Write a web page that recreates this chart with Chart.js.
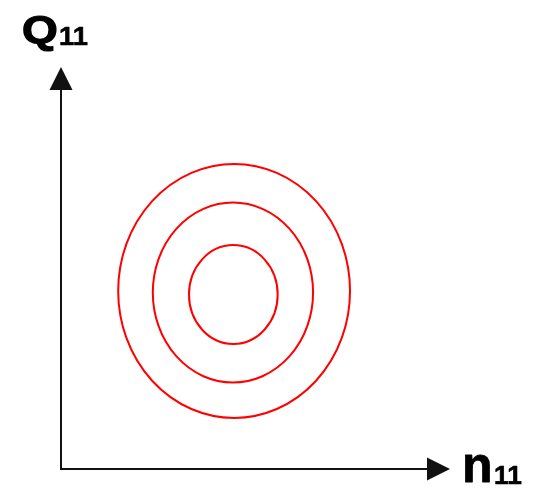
<!DOCTYPE html>
<html>
<head>
<meta charset="utf-8">
<script src="https://cdn.jsdelivr.net/npm/chart.js@4/dist/chart.umd.min.js"></script>
<style>
  html, body { margin: 0; padding: 0; background: #fff; }
  #wrap { width: 540px; height: 493px; }
</style>
</head>
<body>
<div id="wrap"><canvas id="chart"></canvas></div>
<script>
// Contornos: centro y semiejes en unidades de los ejes (0..10)
const contourNames = ['exterior', 'medio', 'interior'];
const centerX = [4.45, 4.42, 4.43];
const centerY = [4.43, 4.39, 4.34];
const radiusX = [2.98, 2.06, 1.14];
const radiusY = [3.16, 2.24, 1.23];

// Rótulos de los ejes
const xLabel = ['n', '11'];
const yLabel = ['Q', '11'];

const FONT = '"Liberation Sans", Arial, sans-serif';

// Texto en negrita, con trazo extra y ensanchado horizontal opcional
function boldText(ctx, text, x, y, size, stretch, stroke) {
    ctx.save();
    ctx.translate(x, y);
    ctx.scale(stretch, 1);
    ctx.font = 'bold ' + size + 'px ' + FONT;
    ctx.fillText(text, 0, 0);
    if (stroke) {
        ctx.lineWidth = stroke;
        ctx.lineJoin = 'round';
        ctx.strokeText(text, 0, 0);
    }
    ctx.restore();
}

// Dibuja los ejes con flechas, los rótulos y las elipses
const contourPlugin = {
    id: 'contours',
    afterDatasetsDraw(chart) {
        const ctx = chart.ctx;
        const xs = chart.scales.x;
        const ys = chart.scales.y;
        const area = chart.chartArea;

        ctx.save();

        // Elipses rojas
        ctx.strokeStyle = '#ff0000';
        ctx.lineWidth = 2;
        centerX.forEach((cx, i) => {
            const px = xs.getPixelForValue(cx);
            const py = ys.getPixelForValue(centerY[i]);
            const rx = Math.abs(xs.getPixelForValue(cx + radiusX[i]) - px);
            const ry = Math.abs(ys.getPixelForValue(centerY[i] + radiusY[i]) - py);
            ctx.beginPath();
            ctx.ellipse(px, py, rx, ry, 0, 0, Math.PI * 2);
            ctx.stroke();
        });

        // Ejes
        const ox = xs.getPixelForValue(0);
        const oy = ys.getPixelForValue(0);
        const head = 23;
        const half = 11.5;
        ctx.strokeStyle = '#111';
        ctx.fillStyle = '#111';
        ctx.lineWidth = 2;
        ctx.beginPath();
        ctx.moveTo(ox, oy);
        ctx.lineTo(ox, area.top + head);
        ctx.moveTo(ox - 1, oy);
        ctx.lineTo(area.right - head, oy);
        ctx.stroke();

        // Punta de flecha vertical
        ctx.beginPath();
        ctx.moveTo(ox, area.top);
        ctx.lineTo(ox - half, area.top + head);
        ctx.lineTo(ox + half, area.top + head);
        ctx.closePath();
        ctx.fill();

        // Punta de flecha horizontal
        ctx.beginPath();
        ctx.moveTo(area.right, oy);
        ctx.lineTo(area.right - head, oy - half);
        ctx.lineTo(area.right - head, oy + half);
        ctx.closePath();
        ctx.fill();

        // Rótulos
        ctx.fillStyle = '#000';
        ctx.strokeStyle = '#000';
        ctx.textBaseline = 'alphabetic';
        ctx.textAlign = 'left';
        boldText(ctx, yLabel[0], 22, 43, 39, 1.18, 1.2);
        boldText(ctx, yLabel[1], 59, 45, 26, 1.05, 0.6);

        boldText(ctx, xLabel[0], 462, 482, 50, 1, 0.8);
        boldText(ctx, xLabel[1], 494, 484, 25, 1.05, 0.6);

        ctx.restore();
    }
};

const config = {
    type: 'scatter',
    data: {
        datasets: [{
            label: 'centros',
            data: centerX.map((x, i) => ({ x: x, y: centerY[i] })),
            pointRadius: 0,
            showLine: false
        }]
    },
    options: {
        responsive: true,
        maintainAspectRatio: false,
        animation: false,
        layout: {
            padding: { left: 61, right: 90, top: 67, bottom: 24 }
        },
        plugins: {
            legend: { display: false },
            tooltip: { enabled: false }
        },
        scales: {
            x: { type: 'linear', min: 0, max: 10, display: false },
            y: { type: 'linear', min: 0, max: 10, display: false }
        }
    },
    plugins: [contourPlugin]
};

new Chart(document.getElementById('chart'), config);
</script>
</body>
</html>
